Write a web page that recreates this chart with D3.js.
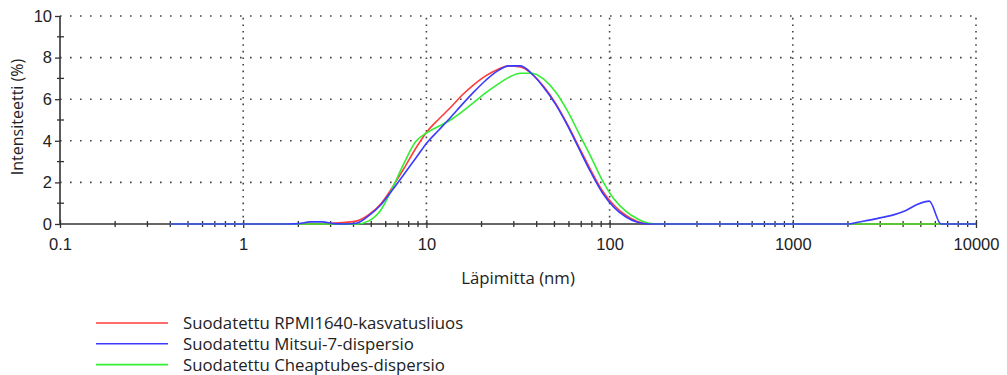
<!DOCTYPE html>
<html>
<head>
<meta charset="utf-8">
<script src="https://cdn.jsdelivr.net/npm/d3@7"></script>
<style>
  body { margin: 0; background: #fff; }
  svg text { fill: #222; }
</style>
</head>
<body>
<div id="chart"></div>
<script>
// Zetasizer size bins (nm)
const sizes = [0.4, 0.4632, 0.5365, 0.6213, 0.7195, 0.8332, 0.9649, 1.117, 1.294, 1.499,
  1.736, 2.01, 2.328, 2.696, 3.122, 3.615, 4.187, 4.849, 5.615, 6.503,
  7.531, 8.721, 10.1, 11.7, 13.54, 15.69, 18.17, 21.04, 24.36, 28.21,
  32.67, 37.84, 43.82, 50.75, 58.77, 68.06, 78.82, 91.28, 105.7, 122.4,
  141.8, 164.2, 190.1, 220.2, 255.0, 295.3, 342.0, 396.1, 458.7, 531.2,
  615.1, 712.4, 825.0, 955.4, 1106, 1281, 1484, 1718, 1990, 2305,
  2669, 3091, 3580, 4145, 4801, 5560, 6439, 7456, 8635, 10000];

const rpmi = [0, 0, 0, 0, 0, 0, 0, 0, 0, 0,
  0, 0, 0, 0, 0.05, 0.08, 0.15, 0.45, 0.95, 1.75,
  2.66, 3.62, 4.45, 5.05, 5.6, 6.2, 6.7, 7.12, 7.42, 7.6,
  7.55, 7.2, 6.6, 5.8, 4.8, 3.7, 2.6, 1.6, 0.9, 0.42,
  0.12, 0, 0, 0, 0, 0, 0, 0, 0, 0,
  0, 0, 0, 0, 0, 0, 0, 0, 0, 0,
  0, 0, 0, 0, 0, 0, 0, 0, 0, 0];

const mitsui = [0, 0, 0, 0, 0, 0, 0, 0, 0, 0,
  0, 0.02, 0.1, 0.1, 0.02, 0, 0.05, 0.4, 0.9, 1.62,
  2.38, 3.15, 3.92, 4.52, 5.12, 5.75, 6.35, 6.9, 7.35, 7.6,
  7.6, 7.2, 6.55, 5.75, 4.75, 3.62, 2.5, 1.5, 0.8, 0.35,
  0.08, 0, 0, 0, 0, 0, 0, 0, 0, 0,
  0, 0, 0, 0, 0, 0, 0, 0, 0, 0.1,
  0.2, 0.32, 0.45, 0.65, 0.95, 1.1, 0, 0, 0, 0];

const cheap = [0, 0, 0, 0, 0, 0, 0, 0, 0, 0,
  0, 0, 0, 0, 0, 0, 0, 0.15, 0.65, 1.7,
  2.9, 3.95, 4.4, 4.7, 5.0, 5.4, 5.85, 6.3, 6.7, 7.05,
  7.25, 7.25, 6.95, 6.35, 5.45, 4.35, 3.25, 2.1, 1.2, 0.62,
  0.25, 0.03, 0, 0, 0, 0, 0, 0, 0, 0,
  0, 0, 0, 0, 0, 0, 0, 0, 0, 0,
  0, 0, 0, 0, 0, 0, 0, 0, 0, 0];

const seriesNames = ['Suodatettu RPMI1640-kasvatusliuos', 'Suodatettu Mitsui-7-dispersio', 'Suodatettu Cheaptubes-dispersio'];
const seriesColors = ['#ff3b3b', '#3b3bff', '#33ee33'];
const xTicks = [0.1, 1, 10, 100, 1000, 10000];
const yTicks = [0, 2, 4, 6, 8, 10];

const width = 1007, height = 375;
const margin = {left: 60, right: 31, top: 16, bottom: 151};

const svg = d3.select('#chart').append('svg')
  .attr('width', width)
  .attr('height', height);

const x = d3.scaleLog().domain([0.1, 10000]).range([margin.left, width - margin.right]);
const y = d3.scaleLinear().domain([0, 10]).range([height - margin.bottom, margin.top]);

// grid
svg.append('g').selectAll('line')
  .data(yTicks.slice(1))
  .enter().append('line')
  .attr('x1', x(0.1)).attr('x2', x(10000))
  .attr('y1', d => y(d)).attr('y2', d => y(d))
  .attr('stroke', '#444').attr('stroke-width', 1.6)
  .attr('stroke-dasharray', '1.6,8.4');

svg.append('g').selectAll('line')
  .data(xTicks.slice(1))
  .enter().append('line')
  .attr('x1', d => x(d)).attr('x2', d => x(d))
  .attr('y1', y(0)).attr('y2', y(10))
  .attr('stroke', '#444').attr('stroke-width', 1.6)
  .attr('stroke-dasharray', '1.6,5');

// minor ticks
const minorX = [];
for (let e = -1; e < 4; e++) for (let m = 2; m <= 9; m++) minorX.push(m * Math.pow(10, e));

svg.append('g').selectAll('line')
  .data(minorX)
  .enter().append('line')
  .attr('x1', d => x(d)).attr('x2', d => x(d))
  .attr('y1', y(0) - 3).attr('y2', y(0) + 3)
  .attr('stroke', '#333').attr('stroke-width', 1.3);

svg.append('g').selectAll('line')
  .data([1, 3, 5, 7, 9])
  .enter().append('line')
  .attr('x1', x(0.1) - 3).attr('x2', x(0.1) + 4)
  .attr('y1', d => y(d)).attr('y2', d => y(d))
  .attr('stroke', '#333').attr('stroke-width', 1.3);

// axes
const xAxis = d3.axisBottom(x).tickValues(xTicks).tickFormat(d => String(d)).tickSize(4).tickPadding(10);
const yAxis = d3.axisLeft(y).tickValues(yTicks).tickFormat(d => String(d)).tickSize(5).tickPadding(3);

const gx = svg.append('g')
  .attr('transform', `translate(0, ${y(0)})`)
  .call(xAxis);
gx.selectAll('line').attr('y1', -4).attr('stroke', '#333').attr('stroke-width', 1.3);

const gy = svg.append('g')
  .attr('transform', `translate(${x(0.1)}, 0)`)
  .call(yAxis);
gy.selectAll('line').attr('stroke', '#333').attr('stroke-width', 1.3);

[gx, gy].forEach(g => {
  g.select('.domain').attr('stroke', '#333').attr('stroke-width', 1.6);
  g.selectAll('text').style('font-family', 'Liberation Sans, Arial, sans-serif').style('font-size', '16.5px').attr('fill', '#222');
});
gx.select('.domain').attr('d', `M${x(0.1)},0H${x(10000)}`);
gy.select('.domain').attr('d', `M0,${y(0)}V${y(10)}`);

// curves
const line = d3.line()
  .x(d => x(d[0]))
  .y(d => y(d[1]))
  .curve(d3.curveMonotoneX);

const allSeries = [rpmi, cheap, mitsui];
const drawColors = [seriesColors[0], seriesColors[2], seriesColors[1]];
allSeries.forEach((vals, i) => {
  svg.append('path')
    .datum(sizes.map((s, j) => [s, vals[j]]))
    .attr('fill', 'none')
    .attr('stroke', drawColors[i])
    .attr('stroke-width', 1.6)
    .attr('d', line);
});

// axis titles
svg.append('text')
  .attr('x', 518).attr('y', 284)
  .attr('text-anchor', 'middle')
  .style('font-family', 'Open Sans, sans-serif').style('font-size', '16.8px')
  .text('Läpimitta (nm)');

svg.append('text')
  .attr('transform', `translate(23, ${y(5) - 3}) rotate(-90)`)
  .attr('text-anchor', 'middle')
  .style('font-family', 'Open Sans, sans-serif').style('font-size', '16px')
  .text('Intensiteetti (%)');

// legend
const legend = svg.append('g').attr('transform', 'translate(96, 323)');
seriesNames.forEach((name, i) => {
  legend.append('line')
    .attr('x1', 0).attr('x2', 72)
    .attr('y1', i * 20.8).attr('y2', i * 20.8)
    .attr('stroke', seriesColors[i]).attr('stroke-width', 1.6);
  legend.append('text')
    .attr('x', 87).attr('y', i * 20.8 + 6)
    .style('font-family', 'Open Sans, sans-serif').style('font-size', '16.8px')
    .text(name);
});
</script>
</body>
</html>
